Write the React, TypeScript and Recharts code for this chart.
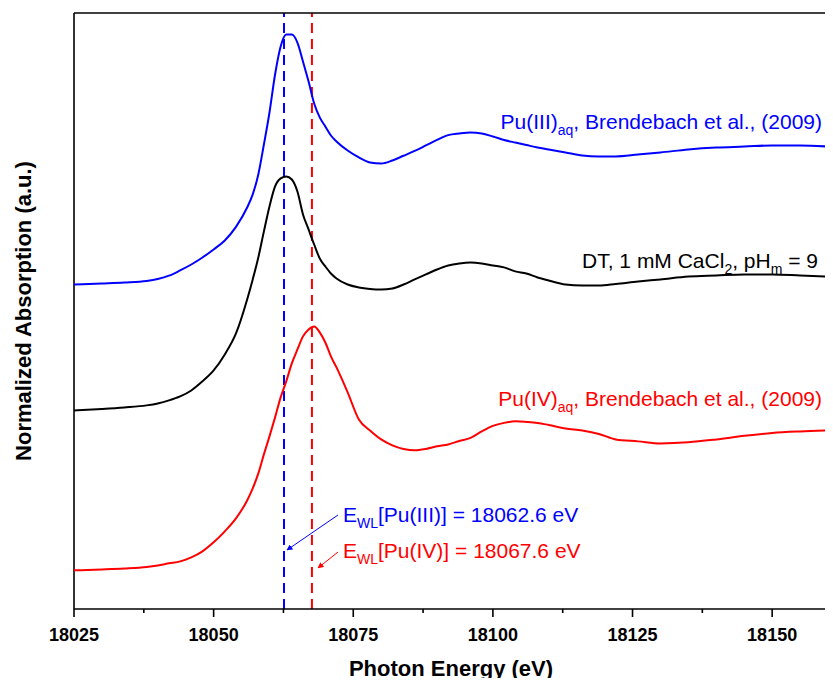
import React from "react";
import { LineChart, Line, XAxis, YAxis, ReferenceLine } from "recharts";

const energy = [18025, 18030, 18034, 18038, 18040, 18042, 18044, 18046, 18048, 18050, 18052, 18054, 18056, 18057, 18058, 18059, 18060, 18061, 18062, 18063, 18064, 18065, 18066, 18067, 18068, 18069, 18070, 18071, 18072, 18074, 18076, 18078, 18080, 18082, 18084, 18086, 18088, 18090, 18092, 18094, 18096, 18098, 18100, 18102, 18104, 18106, 18108, 18110, 18113, 18116, 18119, 18122, 18126, 18130, 18135, 18140, 18145, 18150, 18155, 18160];

const pu3 = [2.072, 2.080, 2.087, 2.098, 2.112, 2.136, 2.174, 2.217, 2.268, 2.326, 2.391, 2.490, 2.630, 2.725, 2.870, 3.087, 3.319, 3.594, 3.797, 3.884, 3.884, 3.826, 3.688, 3.543, 3.384, 3.283, 3.217, 3.152, 3.109, 3.043, 2.993, 2.957, 2.949, 2.971, 3.005, 3.040, 3.080, 3.120, 3.155, 3.167, 3.174, 3.167, 3.145, 3.120, 3.101, 3.083, 3.065, 3.051, 3.029, 3.007, 3.000, 3.000, 3.014, 3.029, 3.051, 3.065, 3.072, 3.080, 3.080, 3.072];

const dt = [1.159, 1.170, 1.181, 1.196, 1.210, 1.232, 1.261, 1.304, 1.370, 1.449, 1.565, 1.717, 1.964, 2.109, 2.268, 2.457, 2.638, 2.783, 2.841, 2.855, 2.833, 2.746, 2.580, 2.471, 2.362, 2.261, 2.203, 2.152, 2.116, 2.072, 2.051, 2.040, 2.036, 2.043, 2.072, 2.109, 2.145, 2.181, 2.210, 2.225, 2.232, 2.225, 2.210, 2.196, 2.167, 2.152, 2.123, 2.101, 2.072, 2.065, 2.065, 2.076, 2.094, 2.109, 2.130, 2.138, 2.145, 2.145, 2.138, 2.130];

const pu4 = [0.000, 0.007, 0.014, 0.025, 0.036, 0.051, 0.065, 0.094, 0.138, 0.203, 0.283, 0.377, 0.507, 0.594, 0.703, 0.841, 0.971, 1.109, 1.254, 1.370, 1.500, 1.601, 1.696, 1.746, 1.768, 1.725, 1.652, 1.551, 1.471, 1.290, 1.094, 1.014, 0.949, 0.906, 0.880, 0.870, 0.880, 0.899, 0.913, 0.938, 0.960, 1.007, 1.047, 1.069, 1.080, 1.076, 1.069, 1.054, 1.029, 1.014, 0.989, 0.949, 0.935, 0.920, 0.928, 0.949, 0.975, 0.996, 1.007, 1.014];

const majorTicks = [18025, 18050, 18075, 18100, 18125, 18150];
const minorTicks = [18037.5, 18062.5, 18087.5, 18112.5, 18137.5];
const allTicks = [...majorTicks, ...minorTicks].sort((a, b) => a - b);

const ewlPu3 = 18062.6;
const ewlPu4 = 18067.6;

const xDomain = [18025, 18160];
const yDomain = [-0.28, 4.04];

const data = energy.map((e, i) => ({ e, pu3: pu3[i], dt: dt[i], pu4: pu4[i] }));

const FONT = "'Liberation Sans', Arial, Helvetica, sans-serif";
const FRAME = { stroke: "#000", strokeWidth: 1.6 };

const Tick = (props: any) => {
  const { x, y, payload } = props;
  const isMajor = majorTicks.includes(payload.value);
  return (
    <g>
      <line x1={x} x2={x} y1={y} y2={y + (isMajor ? 8 : 4)} stroke="#000" strokeWidth={1.6} />
      {isMajor && (
        <text x={x} y={y + 32} textAnchor="middle" fontFamily={FONT} fontWeight="bold" fontSize={18} fill="#000">
          {payload.value}
        </text>
      )}
    </g>
  );
};

export default function App() {
  return (
    <div style={{ position: "relative", width: 825, height: 670 }}>
      <LineChart width={825} height={670} data={data} margin={{ top: 4, right: 5, left: 66, bottom: 29 }}>
        <XAxis
          dataKey="e"
          type="number"
          domain={xDomain}
          ticks={allTicks}
          interval={0}
          tickSize={0}
          tickMargin={0}
          tickLine={false}
          tick={<Tick />}
          height={40}
          axisLine={FRAME}
          allowDataOverflow
        />
        <XAxis xAxisId="top" orientation="top" type="number" domain={xDomain} height={1} tick={false} tickLine={false} axisLine={FRAME} allowDataOverflow />
        <YAxis hide type="number" domain={yDomain} allowDataOverflow />
        <ReferenceLine x={xDomain[0]} stroke="#000" strokeWidth={1.6} />
        <ReferenceLine x={xDomain[1]} stroke="#000" strokeWidth={1.6} />
        <ReferenceLine x={ewlPu3} stroke="#0000ff" strokeWidth={2} strokeDasharray="10 6" />
        <ReferenceLine x={ewlPu4} stroke="#ff0000" strokeWidth={2} strokeDasharray="10 6" />
        <Line dataKey="pu3" type="monotone" stroke="#0000ff" strokeWidth={2} dot={false} isAnimationActive={false} />
        <Line dataKey="dt" type="monotone" stroke="#000000" strokeWidth={2} dot={false} isAnimationActive={false} />
        <Line dataKey="pu4" type="monotone" stroke="#ff0000" strokeWidth={2} dot={false} isAnimationActive={false} />
      </LineChart>
      <svg width={825} height={677} style={{ position: "absolute", left: 0, top: 0, pointerEvents: "none", overflow: "visible" }} fontFamily={FONT}>
        <defs>
          <marker id="arrBlue" viewBox="0 0 10 10" refX="9" refY="5" markerWidth="6" markerHeight="6" orient="auto">
            <path d="M0,0 L10,5 L0,10 z" fill="#0000ff" />
          </marker>
          <marker id="arrRed" viewBox="0 0 10 10" refX="9" refY="5" markerWidth="6" markerHeight="6" orient="auto">
            <path d="M0,0 L10,5 L0,10 z" fill="#ff0000" />
          </marker>
        </defs>
        <text x={23} y={303} transform="rotate(-90 23 303)" textAnchor="middle" fontWeight="bold" fontSize={22} fill="#000">
          Normalized Absorption (a.u.)
        </text>
        <text x={443} y={668} textAnchor="middle" fontWeight="bold" fontSize={22} fill="#000">
          Photon Energy (eV)
        </text>
        <text x={814} y={121} textAnchor="end" fontSize={21} fill="#0000ff">
          <tspan>Pu(III)</tspan>
          <tspan fontSize={14} dy={6}>aq</tspan>
          <tspan dy={-6}>, Brendebach et al., (2009)</tspan>
        </text>
        <text x={810} y={260} textAnchor="end" fontSize={21} fill="#000">
          <tspan>DT, 1 mM CaCl</tspan>
          <tspan fontSize={14} dy={6}>2</tspan>
          <tspan dy={-6}>, pH</tspan>
          <tspan fontSize={14} dy={6}>m</tspan>
          <tspan dy={-6}> = 9</tspan>
        </text>
        <text x={814} y={398} textAnchor="end" fontSize={21} fill="#ff0000">
          <tspan>Pu(IV)</tspan>
          <tspan fontSize={14} dy={6}>aq</tspan>
          <tspan dy={-6}>, Brendebach et al., (2009)</tspan>
        </text>
        <text x={335} y={514} fontSize={21} fill="#0000ff">
          <tspan>E</tspan>
          <tspan fontSize={14} dy={6}>WL</tspan>
          <tspan dy={-6}>[Pu(III)] = 18062.6 eV</tspan>
        </text>
        <text x={335} y={550} fontSize={21} fill="#ff0000">
          <tspan>E</tspan>
          <tspan fontSize={14} dy={6}>WL</tspan>
          <tspan dy={-6}>[Pu(IV)] = 18067.6 eV</tspan>
        </text>
        <line x1={330} y1={507} x2={279} y2={542} stroke="#0000ff" strokeWidth={1} markerEnd="url(#arrBlue)" />
        <line x1={330} y1={544} x2={310} y2={560} stroke="#ff0000" strokeWidth={1} markerEnd="url(#arrRed)" />
      </svg>
    </div>
  );
}
